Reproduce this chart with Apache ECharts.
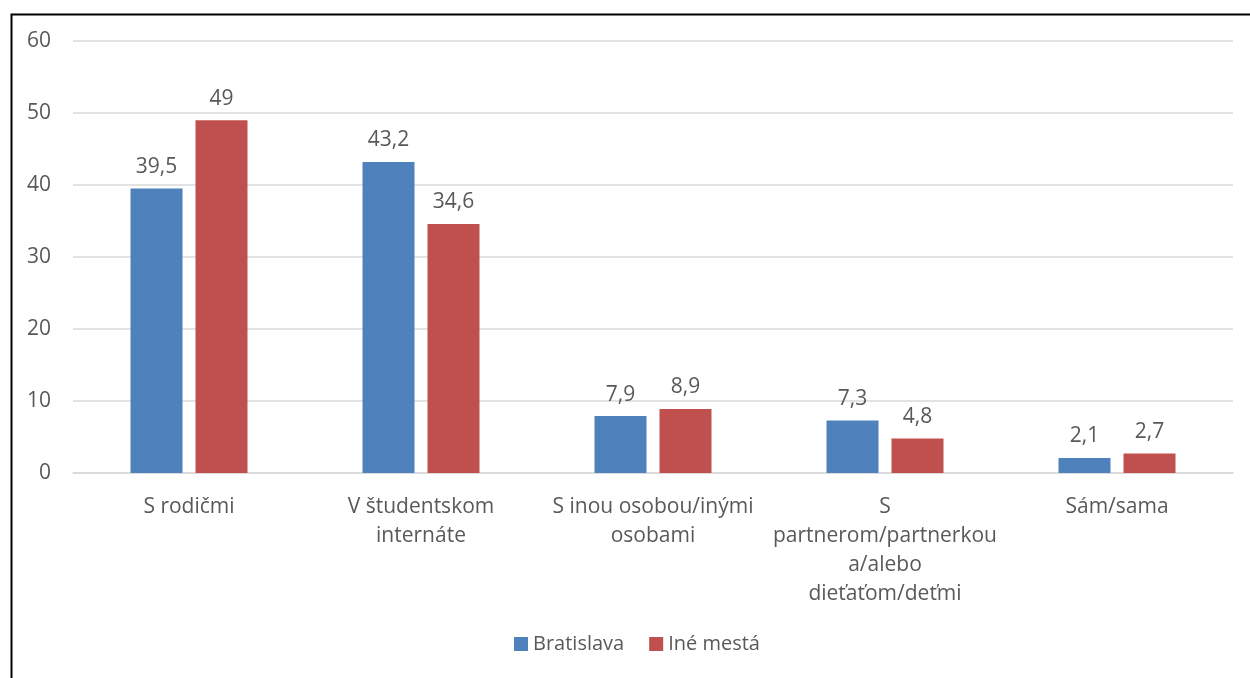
<!DOCTYPE html>
<html>
<head>
<meta charset="utf-8">
<script src="https://cdn.jsdelivr.net/npm/echarts@6/dist/echarts.min.js"></script>
<style>
html, body { margin: 0; padding: 0; background: #fff; }
#chart { width: 1250px; height: 678px; }
</style>
</head>
<body>
<div id="chart"></div>
<script>
var categories = [
  'S rodičmi',
  'V študentskom\ninternáte',
  'S inou osobou/inými\nosobami',
  'S\npartnerom/partnerkou\na/alebo\ndieťaťom/deťmi',
  'Sám/sama'
]
var bratislava = [39.5, 43.2, 7.9, 7.3, 2.1]
var ineMesta = [49, 34.6, 8.9, 4.8, 2.7]
var seriesNames = ['Bratislava', 'Iné mestá']

var font = '"Open Sans", "Noto Sans", sans-serif'
var grey = '#595959'

function fmt (p) {
  return String(p.value).replace('.', ',')
}

var chart = echarts.init(document.getElementById('chart'))
var option = {
  animation: false,
  textStyle: { fontFamily: font },
  graphic: [{
    type: 'rect',
    left: 9,
    top: 12,
    shape: { width: 1300, height: 700 },
    style: { fill: 'none', stroke: '#000', lineWidth: 2 },
    silent: true
  }],
  grid: { left: 73, right: 17, top: 41, bottom: 205 },
  legend: {
    bottom: 19,
    left: 509,
    itemWidth: 14,
    itemHeight: 14,
    itemGap: 25,
    icon: 'rect',
    textStyle: { fontFamily: font, fontSize: 20, color: grey },
    data: seriesNames
  },
  xAxis: {
    type: 'category',
    data: categories,
    axisTick: { show: false },
    axisLine: { lineStyle: { color: '#d9d9d9', width: 1.5 } },
    axisLabel: {
      interval: 0,
      margin: 20,
      fontFamily: font,
      fontSize: 21,
      lineHeight: 29,
      color: grey
    }
  },
  yAxis: {
    type: 'value',
    min: 0,
    max: 60,
    interval: 10,
    axisLine: { show: false },
    axisTick: { show: false },
    splitLine: { lineStyle: { color: '#d9d9d9', width: 1.5 } },
    axisLabel: { margin: 22, fontFamily: font, fontSize: 21, color: grey }
  },
  series: [{
    name: seriesNames[0],
    type: 'bar',
    data: bratislava,
    barWidth: 52,
    barGap: '25%',
    itemStyle: { color: '#4F81BD' },
    label: { show: true, position: 'top', distance: 11, formatter: fmt, fontFamily: font, fontSize: 21, color: grey }
  }, {
    name: seriesNames[1],
    type: 'bar',
    data: ineMesta,
    barWidth: 52,
    itemStyle: { color: '#C0504D' },
    label: { show: true, position: 'top', distance: 11, formatter: fmt, fontFamily: font, fontSize: 21, color: grey }
  }]
}
chart.setOption(option)
</script>
</body>
</html>
